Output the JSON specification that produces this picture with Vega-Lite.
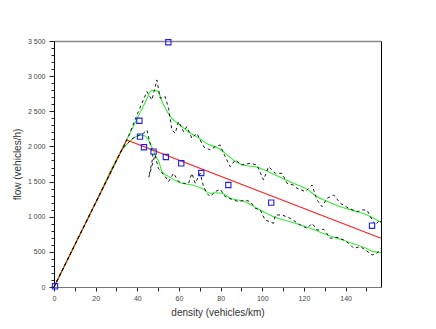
{
  "$schema": "https://vega.github.io/schema/vega-lite/v6.json",
  "width": 327,
  "height": 246,
  "autosize": {"type": "none"},
  "padding": {"left": 54, "top": 41, "right": 55, "bottom": 42},
  "background": "white",
  "config": {"view": {"stroke": null}, "font": "Liberation Sans"},
  "datasets": {
    "upperGreen": [
      {"k": 0, "f": 0}, {"k": 20, "f": 1200}, {"k": 40, "f": 2400}, {"k": 44, "f": 2640}, {"k": 47, "f": 2800},
      {"k": 49.5, "f": 2790}, {"k": 52.6, "f": 2590}, {"k": 56.6, "f": 2400}, {"k": 60.6, "f": 2305}, {"k": 64, "f": 2220},
      {"k": 66, "f": 2180}, {"k": 70, "f": 2110}, {"k": 74, "f": 2030}, {"k": 79, "f": 1974}, {"k": 82.2, "f": 1902},
      {"k": 88.6, "f": 1760}, {"k": 93, "f": 1722}, {"k": 96.6, "f": 1712}, {"k": 103, "f": 1641}, {"k": 109.5, "f": 1547},
      {"k": 115, "f": 1475}, {"k": 120.7, "f": 1404}, {"k": 126.3, "f": 1285}, {"k": 131, "f": 1220}, {"k": 137.5, "f": 1143},
      {"k": 145.5, "f": 1072}, {"k": 150.3, "f": 1025}, {"k": 157, "f": 920}
    ],
    "lowerGreen": [
      {"k": 0, "f": 0}, {"k": 20, "f": 1200}, {"k": 33, "f": 1960}, {"k": 36, "f": 2060}, {"k": 39.5, "f": 2140},
      {"k": 42.5, "f": 2160}, {"k": 45, "f": 2110}, {"k": 47, "f": 1990}, {"k": 48.6, "f": 1878}, {"k": 50.6, "f": 1760},
      {"k": 51.8, "f": 1641}, {"k": 55, "f": 1570}, {"k": 61.4, "f": 1475}, {"k": 66.2, "f": 1451}, {"k": 71, "f": 1404},
      {"k": 75, "f": 1333}, {"k": 77.4, "f": 1342}, {"k": 80.6, "f": 1333}, {"k": 84.6, "f": 1262}, {"k": 91.8, "f": 1214},
      {"k": 97.4, "f": 1120}, {"k": 105.4, "f": 1000}, {"k": 113.5, "f": 929}, {"k": 123, "f": 835}, {"k": 132.7, "f": 726},
      {"k": 142.3, "f": 631}, {"k": 148.7, "f": 565}, {"k": 153.5, "f": 503}, {"k": 157, "f": 490}
    ],
    "upperDash": [
      {"o": 1, "k": 0, "f": 0}, {"o": 2, "k": 20, "f": 1200}, {"o": 3, "k": 36, "f": 2160}, {"o": 4, "k": 40.5, "f": 2495},
      {"o": 5, "k": 44.6, "f": 2780}, {"o": 6, "k": 47, "f": 2661}, {"o": 7, "k": 49.4, "f": 2946}, {"o": 8, "k": 51, "f": 2685},
      {"o": 9, "k": 53.4, "f": 2708}, {"o": 10, "k": 55, "f": 2543}, {"o": 11, "k": 56.6, "f": 2234}, {"o": 12, "k": 58.2, "f": 2187},
      {"o": 13, "k": 59.8, "f": 2352}, {"o": 14, "k": 62.2, "f": 2210}, {"o": 15, "k": 63.8, "f": 2281}, {"o": 16, "k": 66.2, "f": 2116},
      {"o": 17, "k": 68.6, "f": 2187}, {"o": 18, "k": 70.2, "f": 2092}, {"o": 19, "k": 72, "f": 1990}, {"o": 20, "k": 75, "f": 1950},
      {"o": 21, "k": 77.4, "f": 1997}, {"o": 22, "k": 79.8, "f": 2021}, {"o": 23, "k": 81.4, "f": 1902}, {"o": 24, "k": 84.6, "f": 1712},
      {"o": 25, "k": 87, "f": 1807}, {"o": 26, "k": 90.2, "f": 1736}, {"o": 27, "k": 94.2, "f": 1760}, {"o": 28, "k": 97.4, "f": 1736},
      {"o": 29, "k": 100.6, "f": 1523}, {"o": 30, "k": 103, "f": 1712}, {"o": 31, "k": 106.3, "f": 1617}, {"o": 32, "k": 109.5, "f": 1617},
      {"o": 33, "k": 111.9, "f": 1475}, {"o": 34, "k": 115, "f": 1451}, {"o": 35, "k": 116.7, "f": 1404}, {"o": 36, "k": 120.7, "f": 1357},
      {"o": 37, "k": 123.9, "f": 1451}, {"o": 38, "k": 126.3, "f": 1238}, {"o": 39, "k": 128.7, "f": 1143}, {"o": 40, "k": 131.1, "f": 1262},
      {"o": 41, "k": 134.3, "f": 1309}, {"o": 42, "k": 137.5, "f": 1191}, {"o": 43, "k": 141.5, "f": 1120}, {"o": 44, "k": 145.5, "f": 1072},
      {"o": 45, "k": 147.9, "f": 1096}, {"o": 46, "k": 150.3, "f": 1096}, {"o": 47, "k": 151.9, "f": 1000}, {"o": 48, "k": 154.3, "f": 882},
      {"o": 49, "k": 156.4, "f": 953}, {"o": 50, "k": 157, "f": 920}
    ],
    "lowerDash": [
      {"o": 1, "k": 0, "f": 0}, {"o": 2, "k": 20, "f": 1200}, {"o": 3, "k": 33, "f": 1980}, {"o": 4, "k": 38, "f": 2120},
      {"o": 5, "k": 42.9, "f": 2187}, {"o": 6, "k": 44.6, "f": 2234}, {"o": 7, "k": 46.5, "f": 2000}, {"o": 8, "k": 47.5, "f": 1850},
      {"o": 9, "k": 45.5, "f": 1560}, {"o": 10, "k": 48.5, "f": 1880}, {"o": 11, "k": 50.1, "f": 1690}, {"o": 12, "k": 53.4, "f": 1570},
      {"o": 13, "k": 55, "f": 1499}, {"o": 14, "k": 57.4, "f": 1618}, {"o": 15, "k": 59.8, "f": 1499}, {"o": 16, "k": 62.2, "f": 1475},
      {"o": 17, "k": 64.6, "f": 1475}, {"o": 18, "k": 66.2, "f": 1618}, {"o": 19, "k": 67.8, "f": 1475}, {"o": 20, "k": 70.2, "f": 1618},
      {"o": 21, "k": 71.8, "f": 1428}, {"o": 22, "k": 73.4, "f": 1333}, {"o": 23, "k": 75, "f": 1285}, {"o": 24, "k": 77.4, "f": 1357},
      {"o": 25, "k": 79.8, "f": 1390}, {"o": 26, "k": 82.2, "f": 1285}, {"o": 27, "k": 85.4, "f": 1248}, {"o": 28, "k": 88.6, "f": 1214},
      {"o": 29, "k": 91.8, "f": 1238}, {"o": 30, "k": 94.2, "f": 1214}, {"o": 31, "k": 96.6, "f": 1120}, {"o": 32, "k": 99, "f": 1096},
      {"o": 33, "k": 101.4, "f": 953}, {"o": 34, "k": 105.4, "f": 906}, {"o": 35, "k": 106.3, "f": 1025}, {"o": 36, "k": 109.5, "f": 1025},
      {"o": 37, "k": 113.5, "f": 977}, {"o": 38, "k": 118.3, "f": 882}, {"o": 39, "k": 121.5, "f": 835}, {"o": 40, "k": 123.9, "f": 906},
      {"o": 41, "k": 126.3, "f": 811}, {"o": 42, "k": 129.5, "f": 821}, {"o": 43, "k": 132.7, "f": 693}, {"o": 44, "k": 135.9, "f": 707},
      {"o": 45, "k": 139.1, "f": 669}, {"o": 46, "k": 141.5, "f": 622}, {"o": 47, "k": 143.9, "f": 551}, {"o": 48, "k": 147.1, "f": 574},
      {"o": 49, "k": 149.5, "f": 527}, {"o": 50, "k": 152.7, "f": 455}, {"o": 51, "k": 155.1, "f": 479}, {"o": 52, "k": 156.7, "f": 551}
    ],
    "red": [{"k": 0, "f": 0}, {"k": 34.9, "f": 2092}, {"k": 157, "f": 693}],
    "blue": [
      {"k": 0.5, "f": 10}, {"k": 41, "f": 2365}, {"k": 41.3, "f": 2139}, {"k": 43.2, "f": 1988}, {"k": 47.8, "f": 1926},
      {"k": 54.9, "f": 3482}, {"k": 53.7, "f": 1850}, {"k": 61.1, "f": 1760}, {"k": 70.7, "f": 1622}, {"k": 83.7, "f": 1451},
      {"k": 104.3, "f": 1200}, {"k": 152.7, "f": 872}
    ]
  },
  "layer": [
    {
      "data": {"name": "upperGreen"},
      "mark": {"type": "line", "color": "#33ee33", "strokeWidth": 1.1, "interpolate": "monotone"},
      "encoding": {
        "x": {"field": "k", "type": "quantitative", "scale": {"domain": [0, 157], "nice": false, "zero": false},
          "axis": {"orient": "bottom", "title": "density (vehicles/km)", "values": [0,10,20,30,40,50,60,70,80,90,100,110,120,130,140,150],
            "labelExpr": "datum.value % 20 === 0 ? datum.label : ''", "grid": false, "domainColor": "#777777", "tickColor": "#222222",
            "tickSize": 4, "labelFontSize": 7, "labelColor": "#444444", "labelPadding": 3, "labelFlush": false,
            "titleFontSize": 10, "titleFontWeight": "normal", "titleColor": "#333333", "titlePadding": 6}},
        "y": {"field": "f", "type": "quantitative", "scale": {"domain": [0, 3500], "nice": false},
          "axis": {"orient": "left", "title": "flow (vehicles/h)", "values": [0,100,200,300,400,500,600,700,800,900,1000,1100,1200,1300,1400,1500,1600,1700,1800,1900,2000,2100,2200,2300,2400,2500,2600,2700,2800,2900,3000,3100,3200,3300,3400,3500],
            "labelExpr": "datum.value % 500 === 0 ? replace(format(datum.value, ','), ',', ' ') : ''", "grid": false,
            "domainColor": "#000000", "tickColor": "#222222",
            "tickSize": {"condition": {"test": "datum.value % 500 === 0", "value": 5}, "value": 3},
            "labelFontSize": 7, "labelColor": "#444444", "labelPadding": 4, "labelFlush": false,
            "titleFontSize": 10, "titleFontWeight": "normal", "titleColor": "#333333", "titlePadding": 5}}
      }
    },
    {
      "data": {"name": "lowerGreen"},
      "mark": {"type": "line", "color": "#33ee33", "strokeWidth": 1.1, "interpolate": "monotone"},
      "encoding": {
        "x": {"field": "k", "type": "quantitative", "scale": {"domain": [0, 157], "nice": false, "zero": false}, "axis": null},
        "y": {"field": "f", "type": "quantitative", "scale": {"domain": [0, 3500], "nice": false}, "axis": null}
      }
    },
    {
      "data": {"name": "red"},
      "mark": {"type": "line", "color": "#ff2020", "strokeWidth": 1.1},
      "encoding": {
        "x": {"field": "k", "type": "quantitative", "scale": {"domain": [0, 157], "nice": false, "zero": false}, "axis": null},
        "y": {"field": "f", "type": "quantitative", "scale": {"domain": [0, 3500], "nice": false}, "axis": null}
      }
    },
    {
      "data": {"name": "upperDash"},
      "mark": {"type": "line", "color": "#000000", "strokeWidth": 0.9, "strokeDash": [3, 3]},
      "encoding": {
        "x": {"field": "k", "type": "quantitative", "scale": {"domain": [0, 157], "nice": false, "zero": false}, "axis": null},
        "y": {"field": "f", "type": "quantitative", "scale": {"domain": [0, 3500], "nice": false}, "axis": null},
        "order": {"field": "o", "type": "quantitative"}
      }
    },
    {
      "data": {"name": "lowerDash"},
      "mark": {"type": "line", "color": "#000000", "strokeWidth": 0.9, "strokeDash": [3, 3]},
      "encoding": {
        "x": {"field": "k", "type": "quantitative", "scale": {"domain": [0, 157], "nice": false, "zero": false}, "axis": null},
        "y": {"field": "f", "type": "quantitative", "scale": {"domain": [0, 3500], "nice": false}, "axis": null},
        "order": {"field": "o", "type": "quantitative"}
      }
    },
    {
      "data": {"name": "blue"},
      "mark": {"type": "point", "shape": "square", "filled": false, "color": "#2020ee", "size": 28, "strokeWidth": 1.1, "opacity": 1},
      "encoding": {
        "x": {"field": "k", "type": "quantitative", "scale": {"domain": [0, 157], "nice": false, "zero": false},
          "axis": {"orient": "top", "title": null, "labels": false, "ticks": false, "grid": false, "domainColor": "#888888", "domainWidth": 1.5}},
        "y": {"field": "f", "type": "quantitative", "scale": {"domain": [0, 3500], "nice": false},
          "axis": {"orient": "right", "title": null, "labels": false, "ticks": false, "grid": false, "domainColor": "#000000"}}
      }
    }
  ],
  "resolve": {"axis": {"x": "independent", "y": "independent"}}
}
